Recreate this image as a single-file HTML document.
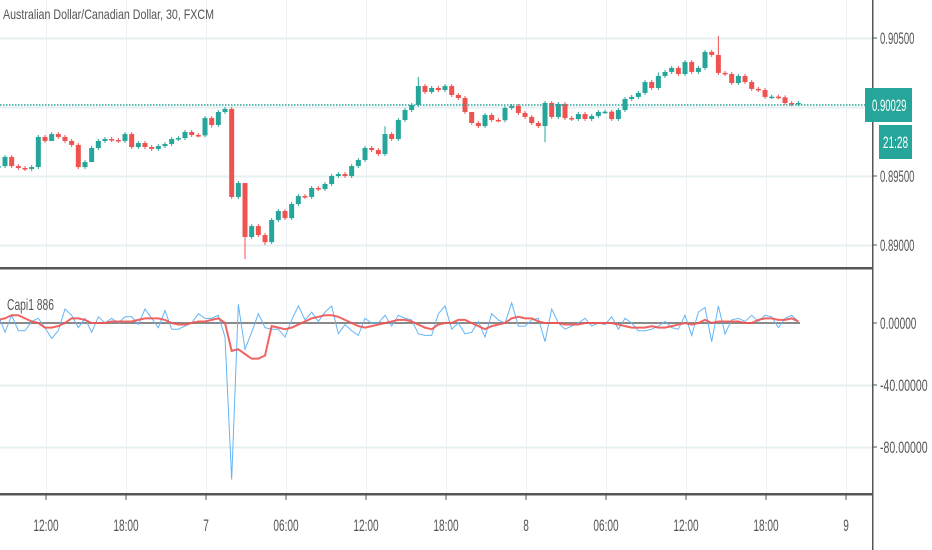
<!DOCTYPE html>
<html><head><meta charset="utf-8"><style>
html,body{margin:0;padding:0;background:#fff;}
svg{display:block;font-family:"Liberation Sans",sans-serif;}
</style></head><body>
<svg id="chart" width="932" height="550"></svg>
<script>
const closes=[.89572,.89638,.89572,.89558,.89551,.89565,.89783,.89754,.89804,.89783,.89754,.89725,.89565,.89601,.89703,.89754,.89768,.89761,.89754,.89804,.89710,.89739,.89710,.89696,.89717,.89732,.89768,.89775,.89819,.89797,.89794,.89920,.89870,.89964,.89986,.89348,.89449,.89058,.89137,.89072,.89021,.89181,.89246,.89195,.89297,.89355,.89348,.89413,.89406,.89442,.89500,.89514,.89500,.89572,.89616,.89703,.89688,.89659,.89804,.89768,.89906,.89978,.90015,.90152,.90109,.90138,.90123,.90152,.90087,.90065,.89964,.89884,.89862,.89942,.89906,.89904,.89993,.90007,.89957,.89928,.89884,.89862,.90029,.89928,.90022,.89920,.89913,.89949,.89913,.89935,.89964,.89966,.89913,.89978,.90058,.90073,.90102,.90181,.90138,.90225,.90254,.90283,.90239,.90326,.90254,.90283,.90399,.90377,.90247,.90239,.90174,.90225,.90181,.90131,.90123,.90073,.90075,.90070,.90029,.90020,.90029];
const firstOpen=.89570;
const highs={37:.89390,63:.90218,108:.90515,58:.89860,99:.90250,71:.89880};
const lows={37:.88898,82:.89746,14:.89640,8:.89760,32:.89850,40:.89000};
const fast=[5,-6,5,-5,-5,1,3,-3,-10,-5,9,5,-3,3,-6,4,0,3,0,4,4,-1,9,3,-3,8,-4,-4,-2,0,6,3,3,5,-9,-101,12,-17,-6,6,-3,-4,-4,-9,2,11,2,7,1,7,11,-7,-1,-5,-8,3,0,0,5,-2,5,3,2,-7,-8,-8,6,11,-4,0,-7,-6,1,-9,6,2,0,13,-2,-2,2,3,-12,9,0,-4,-2,0,3,-2,0,-1,4,-4,3,0,-5,-5,-4,-2,1,-3,-4,5,-8,7,10,-12,11,-7,2,3,1,5,1,5,4,-3,3,5,1];
const slow=[2,3,5,5,3,1,0,-3,-3,-2,0,3,3,2,0,0,0,1,1,1,1,2,3,3,3,2,0,-1,-1,0,1,1,2,3,0,-18,-17,-20,-23,-23,-21,-2,-3,-4,-3,-1,1,3,4,5,5,4,2,0,-2,-3,-2,-1,0,1,2,2,1,-1,-3,-4,-1,0,0,2,2,0,-2,-4,-2,-1,0,3,4,3,3,1,0,0,0,-1,-1,-1,0,0,0,0,0,-1,-2,-3,-3,-3,-2,-3,-3,-2,-1,0,-1,0,2,0,1,1,1,1,0,0,2,3,3,2,2,3,1];
const priceTicks=[0.905,0.900,0.895,0.890];
const priceLabels=["0.90500",null,"0.89500","0.89000"];
const indTicks=[0,-40,-80];
const indLabels=["0.00000","-40.00000","-80.00000"];
const timeLabels=["12:00","18:00","7","06:00","12:00","18:00","8","06:00","12:00","18:00","9"];
const timeIdx=[7,19,31,43,55,67,79,91,103,115,127];
const lastPrice="0.90029", countdown="21:28";

const NS="http://www.w3.org/2000/svg";
const svg=document.getElementById('chart');
function mk(tag,attrs,parent){const e=document.createElementNS(NS,tag);for(const k in attrs)e.setAttribute(k,attrs[k]);(parent||svg).appendChild(e);return e;}
// condensed text: width derived from character count
function txt(x,yc,str,size,perChar,anchor,fill){
  const w=str.split('').reduce((s,ch)=>s+(ch==='.'||ch===':'?perChar*0.5:ch===' '?perChar*0.5:perChar),0);
  const t=mk('text',{x:x,y:yc+size*0.36,'font-size':size,fill:fill||'#555','text-anchor':anchor||'start',textLength:w,lengthAdjust:'spacingAndGlyphs'});
  t.textContent=str;return t;
}
const xOf=i=>205+(i-31)*6.667;
const yP=p=>107-(p-0.9)*13800;
const yI=v=>323-v*1.55;
const G="#26a69a",R="#ef5350";

const grid=mk('g',{});


timeIdx.forEach(i=>{const x=Math.round(xOf(i)+1)+0.5;mk('line',{x1:x,x2:x,y1:0,y2:494,stroke:'#eef1f6','stroke-width':1},grid);});
priceTicks.forEach(p=>{const y=Math.round(yP(p))+0.5;mk('line',{x1:0,x2:873,y1:y,y2:y,stroke:'#e6f0f2','stroke-width':2},grid);});
indTicks.slice(1).forEach(v=>{const y=Math.round(yI(v))+0.5;mk('line',{x1:0,x2:873,y1:y,y2:y,stroke:'#e6f0f2','stroke-width':2},grid);});

const cg=mk('g',{});


closes.forEach((c,i)=>{
  const o=i===0?firstOpen:closes[i-1];
  const col=c>=o?G:R;
  const x=xOf(i);
  const top=yP(Math.max(o,c)),bot=yP(Math.min(o,c));
  const hi=highs[i]!==undefined?yP(highs[i]):top-2;
  const lo=lows[i]!==undefined?yP(lows[i]):bot+2;
  const w=mk('line',{x1:x,x2:x,y1:hi,y2:lo,stroke:col,'stroke-width':1},cg);
  
  
  const b=mk('rect',{x:x-2.5,y:top,width:5,height:Math.max(1.5,bot-top),fill:col},cg);
  
  
});
const pl=mk('line',{x1:0,x2:873,y1:105,y2:105,stroke:G,'stroke-width':1.5,'stroke-dasharray':'1.5 1.5'});



const zl=mk('line',{x1:0,x2:800,y1:yI(0),y2:yI(0),stroke:'#8a8a8a','stroke-width':2});


const fp=mk('polyline',{points:fast.map((v,i)=>xOf(i)+','+yI(v)).join(' '),fill:'none',stroke:'#64b5f6','stroke-width':1});


const sp=mk('polyline',{points:slow.map((v,i)=>xOf(i)+','+yI(v)).join(' '),fill:'none',stroke:'#ef5350','stroke-width':2,opacity:0.9});



mk('rect',{x:0,y:267,width:873,height:2.5,fill:'#555'});
mk('rect',{x:0,y:493,width:873,height:2.5,fill:'#555'});
mk('rect',{x:872,y:0,width:1.5,height:550,fill:'#555'});

priceTicks.forEach((p,k)=>{if(!priceLabels[k])return;const y=yP(p);
  mk('line',{x1:873,x2:877,y1:y,y2:y,stroke:'#555'});
  const t=txt(880,y,priceLabels[k],17,5.3);
  
  });
indTicks.forEach((v,k)=>{const y=yI(v);
  mk('line',{x1:873,x2:877,y1:y,y2:y,stroke:'#555'});
  const t=txt(880,y,indLabels[k],17,5.6);
  
  });
mk('rect',{x:865,y:88,width:47,height:34,fill:G});
const lp=txt(872,105,lastPrice,17,5.3,'start','#fff');


mk('rect',{x:879,y:125,width:33,height:34,fill:G});
const cd=txt(895.5,142,countdown,17,5.6,'middle','#fff');



timeIdx.forEach((i,k)=>{const x=xOf(i)+1;
  mk('line',{x1:x,x2:x,y1:495,y2:500,stroke:'#555'});
  const t=txt(x,525,timeLabels[k],17,5.6,'middle');
  
  });

const tt=mk('text',{x:3,y:19,'font-size':14,fill:'#555',textLength:211,lengthAdjust:'spacingAndGlyphs'});tt.textContent="Australian Dollar/Canadian Dollar, 30, FXCM";


const it=mk('text',{x:7,y:310,'font-size':16,fill:'#555',textLength:47,lengthAdjust:'spacingAndGlyphs'});it.textContent="Capi1 886";


</script>
</body></html>
